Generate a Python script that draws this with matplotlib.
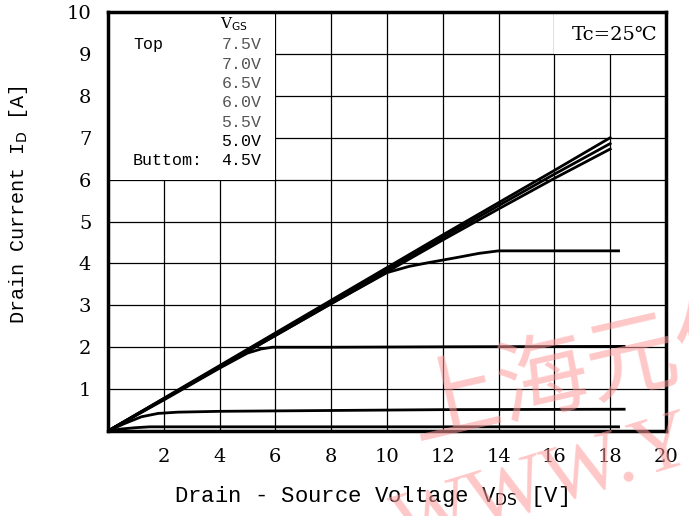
import numpy as np
import matplotlib
matplotlib.use('Agg')
import matplotlib.pyplot as plt
from matplotlib.patches import Rectangle

# output characteristics
vgs_labels = ['7.5V', '7.0V', '6.5V', '6.0V', '5.5V', '5.0V', '4.5V']

vds_75 = [0, 2, 4, 6, 8, 10, 12, 14, 16, 18]
id_75 = [0, 0.78, 1.56, 2.34, 3.12, 3.9, 4.68, 5.45, 6.22, 7.0]
vds_70 = [0, 2, 4, 6, 8, 10, 12, 14, 16, 18]
id_70 = [0, 0.77, 1.54, 2.31, 3.08, 3.85, 4.62, 5.38, 6.13, 6.86]
vds_65 = [0, 2, 4, 6, 8, 10, 12, 14, 16, 18]
id_65 = [0, 0.76, 1.52, 2.28, 3.04, 3.8, 4.56, 5.3, 6.03, 6.73]
vds_60 = [0, 2, 4, 6, 8, 10, 10.8, 11.5, 12.5, 13.3, 14, 16, 18.3]
id_60 = [0, 0.76, 1.52, 2.28, 3.04, 3.78, 3.93, 4.02, 4.14, 4.24, 4.3, 4.3, 4.3]
vds_55 = [0, 2, 4, 5, 5.5, 5.9, 8, 12, 18.5]
id_55 = [0, 0.74, 1.5, 1.86, 1.96, 2.0, 2.0, 2.01, 2.02]
vds_50 = [0, 0.6, 1.2, 1.8, 2.5, 4, 8, 12, 18.5]
id_50 = [0, 0.18, 0.34, 0.42, 0.45, 0.47, 0.49, 0.51, 0.52]
vds_45 = [0, 0.5, 1.0, 1.5, 4, 10, 18.3]
id_45 = [0, 0.05, 0.08, 0.1, 0.1, 0.1, 0.1]

x_ticks = [2, 4, 6, 8, 10, 12, 14, 16, 18, 20]
y_ticks = [1, 2, 3, 4, 5, 6, 7, 8, 9, 10]

mono = 'Liberation Mono'
serif = 'DejaVu Serif'

fig = plt.figure(figsize=(6.89, 5.16), dpi=100)
ax = fig.add_axes([0.1567, 0.1647, 0.8099, 0.812])
ax.set_xlim(0, 20)
ax.set_ylim(0, 10)

ax.set_xticks(x_ticks)
ax.set_yticks(y_ticks)
ax.grid(True, color='black', linewidth=0.9)
ax.tick_params(length=0, pad=12, labelsize=14)
for lab in ax.get_xticklabels() + ax.get_yticklabels():
    lab.set_fontfamily(serif)
for s in ax.spines.values():
    s.set_linewidth(2.5)

# white boxes that cover the grid under the legend and temperature note
ax.add_patch(Rectangle((0, 6), 6, 4, facecolor='white', edgecolor='none', zorder=2))
ax.add_patch(Rectangle((16, 9), 4, 1, facecolor='white', edgecolor='none', zorder=2))

curves = [(vds_75, id_75), (vds_70, id_70), (vds_65, id_65), (vds_60, id_60),
          (vds_55, id_55), (vds_50, id_50), (vds_45, id_45)]
for xs, ys in curves:
    ax.plot(xs, ys, color='black', linewidth=2.0, zorder=3)

# legend text
ax.text(0.2, 0.972, r'V$_{\mathrm{GS}}$', transform=ax.transAxes, fontsize=11,
        family=serif, ha='left', va='center', zorder=4)
ax.text(0.045, 0.922, 'Top', transform=ax.transAxes, fontsize=12,
        family=mono, ha='left', va='center', zorder=4)
ax.text(0.045, 0.645, 'Buttom:', transform=ax.transAxes, fontsize=12,
        family=mono, ha='left', va='center', zorder=4)
for i, lab in enumerate(vgs_labels):
    col = '#555555' if i < 5 else 'black'
    ax.text(0.275, 0.922 - i * 0.0462, lab, transform=ax.transAxes, fontsize=12,
            family=mono, ha='right', va='center', color=col, zorder=4)

ax.text(0.984, 0.944, 'Tc=25℃', transform=ax.transAxes, fontsize=14,
        family=['DejaVu Serif', 'Noto Sans CJK SC'], ha='right', va='center', zorder=4)

# axis titles, placed in axes coordinates
ax.text(0.471, -0.157, r'Drain - Source Voltage V$_{\mathrm{DS}}$ [V]', family=mono,
        fontsize=16, transform=ax.transAxes, ha='center', va='center')
ax.text(-0.161, 0.54, r'Drain Current I$_{\mathrm{D}}$ [A]', family=mono,
        fontsize=14.5, transform=ax.transAxes, ha='center', va='center', rotation=90)

# watermark (cut off at the edges, as in the source image)
fig.text(0.58, 0.11, '上海元件', fontsize=66, color='#ff9a9a', alpha=0.55,
         family=['Noto Sans CJK SC'], weight='light', rotation=13,
         ha='left', va='bottom', zorder=10)
fig.text(0.56, -0.1, 'WWW.YOZ', fontsize=60, color='#ff9a9a', alpha=0.55,
         family=['Liberation Serif'], rotation=17, ha='left', va='bottom', zorder=10)

fig.savefig('out.png', dpi=100)
